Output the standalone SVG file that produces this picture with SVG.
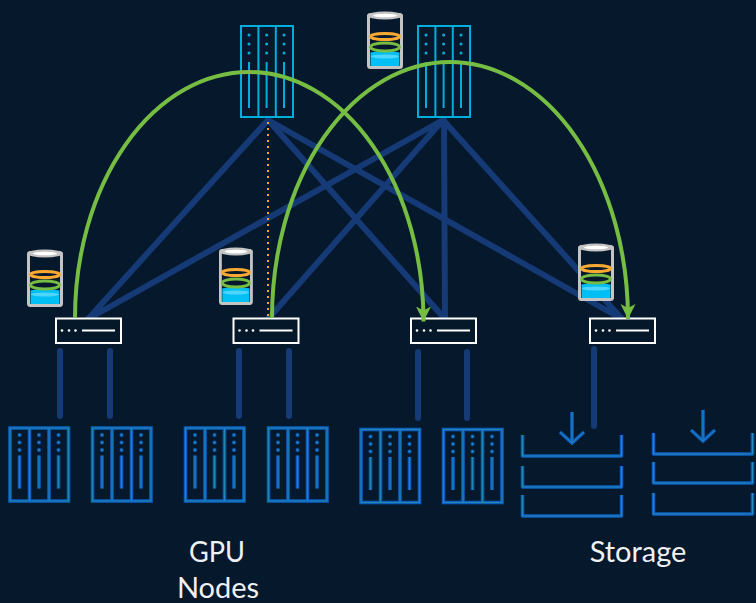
<svg xmlns="http://www.w3.org/2000/svg" xmlns:xlink="http://www.w3.org/1999/xlink" width="756" height="603" viewBox="0 0 756 603">
<style>
.link{fill:none;stroke:#153a75;stroke-width:6;stroke-linecap:round}
.arc{fill:none;stroke:#76bd43;stroke-width:4}
.lab{font-family:"Lato","Open Sans",sans-serif;font-size:29px;fill:#f0f1f3;text-anchor:middle}
.sw{fill:#051829;stroke:#fff;stroke-width:2}
.swl{stroke:#fff;stroke-width:2;fill:none}
.swd{fill:#fff}
.top{fill:none;stroke:#00aedb;stroke-width:2}
.topd{fill:#00aedb}
.o{fill:none;stroke:#0a5fba;stroke-width:3.6}
</style>
<defs>
<marker id="ah" markerUnits="userSpaceOnUse" markerWidth="18" markerHeight="18" refX="15" refY="8" orient="auto">
<path d="M0 0.500 L4 8 L0 15.500 L15 8Z" fill="#76bd43"/>
</marker>
<g id="toprack">
<rect class="top" x="1" y="1" width="52" height="91"/>
<path class="top" d="M18.400 1V92M35.800 1V92"/>
<circle class="topd" cx="9" cy="10" r="1.500"/><circle class="topd" cx="26.600" cy="10" r="1.500"/><circle class="topd" cx="44" cy="10" r="1.500"/>
<circle class="topd" cx="9" cy="19" r="1.500"/><circle class="topd" cx="26.600" cy="19" r="1.500"/><circle class="topd" cx="44" cy="19" r="1.500"/>
<circle class="topd" cx="9" cy="28" r="1.500"/><circle class="topd" cx="26.600" cy="28" r="1.500"/><circle class="topd" cx="44" cy="28" r="1.500"/>
<path class="top" d="M9 37V83M26.600 37V83M44 37V83"/>
</g>
<g id="rackpaths">
<rect x="1.500" y="1.500" width="58.500" height="73"/>
<path d="M21 1.500V74.500M40.500 1.500V74.500M11 29V62M30.500 29V62M50 29V62"/>
</g>
<g id="rack">
<use href="#rackpaths" class="o"/>
<use href="#rackpaths" fill="none" stroke="#2585b8" stroke-width="1"/>
<g fill="#0a5fba"><circle cx="11" cy="8.500" r="2"/><circle cx="30.500" cy="8.500" r="2"/><circle cx="50" cy="8.500" r="2"/><circle cx="11" cy="16" r="2"/><circle cx="30.500" cy="16" r="2"/><circle cx="50" cy="16" r="2"/><circle cx="11" cy="23.500" r="2"/><circle cx="30.500" cy="23.500" r="2"/><circle cx="50" cy="23.500" r="2"/></g>
<g fill="#2f9fc8"><circle cx="11" cy="8.500" r=".8"/><circle cx="30.500" cy="8.500" r=".8"/><circle cx="50" cy="8.500" r=".8"/><circle cx="11" cy="16" r=".8"/><circle cx="30.500" cy="16" r=".8"/><circle cx="50" cy="16" r=".8"/><circle cx="11" cy="23.500" r=".8"/><circle cx="30.500" cy="23.500" r=".8"/><circle cx="50" cy="23.500" r=".8"/></g>
</g>
<g id="tray">
<path class="o" d="M1.500 0V21H100.500V0" stroke-linejoin="round"/>
<path d="M1.500 0V21H100.500V0" fill="none" stroke="#2a86c0" stroke-width="1"/>
</g>
<g id="down">
<path class="o" d="M0 0V31M-12 20L0 31L12 20"/>
<path d="M0 0V31M-12 20L0 31L12 20" fill="none" stroke="#2a86c0" stroke-width="1"/>
</g>
<g id="cyl">
<rect x="1.500" y="3.500" width="33" height="53" rx="2" fill="#06182c" stroke="#c4c4c4" stroke-width="3"/>
<path d="M3.500 41.500Q18 38 32.500 41.500V55H3.500Z" fill="#00bff5"/>
<ellipse cx="18" cy="45.500" rx="14" ry="2" fill="#4fd6ff"/>
<ellipse cx="18" cy="25.500" rx="14.500" ry="3" fill="none" stroke="#f9a832" stroke-width="3"/>
<ellipse cx="18" cy="36" rx="14.500" ry="4" fill="none" stroke="#76bd43" stroke-width="3"/>
<ellipse cx="18" cy="4.500" rx="18" ry="4" fill="#c4c4c4"/>
<ellipse cx="18" cy="4.500" rx="12" ry="1.800" fill="#fff"/>
</g>
<g id="switch">
<rect class="sw" x="1" y="1" width="65" height="24.500"/>
<circle class="swd" cx="7" cy="13" r="1.300"/><circle class="swd" cx="14" cy="13" r="1.300"/><circle class="swd" cx="20.500" cy="13" r="1.300"/>
<path class="swl" d="M27 13H60"/>
</g>
</defs>
<rect width="756" height="603" fill="#05182c"/>
<g id="connectors">
<path class="link" d="M268 120L88 319M443 120L88 319M443 120L268 319M444 120L445 319M268 120L445 319M268 120L622 319M443 120L622 319"/>
<path class="link" d="M60 351V416M110 351V416M239 351V416M289 351V416M418 352V418M467 352V418M594 349V426"/>
<path d="M268 122V318" fill="none" stroke="#f5a623" stroke-width="2" stroke-dasharray="2 4"/>
</g>
<g id="spine-1"><use href="#toprack" x="240" y="25"/></g>
<g id="spine-2"><use href="#toprack" x="417" y="25"/></g>
<g id="cache-top"><use href="#cyl" x="367" y="11"/></g>
<g id="cache-1"><use href="#cyl" x="27" y="249"/></g>
<g id="cache-2"><use href="#cyl" transform="translate(219 247) scale(.94 1)"/></g>
<g id="cache-3"><use href="#cyl" x="578" y="243"/></g>
<g id="leaf-1"><use href="#switch" x="55" y="317.500"/></g>
<g id="leaf-2"><use href="#switch" x="232.500" y="317.500"/></g>
<g id="leaf-3"><use href="#switch" x="410" y="317.500"/></g>
<g id="leaf-4"><use href="#switch" x="589" y="317.500"/></g>
<g id="arcs">
<path class="arc" d="M75 318A174 246 0 0 1 249 72A174.500 249.500 0 0 1 423.500 321.500" marker-end="url(#ah)"/>
<path class="arc" d="M272 318A178 256 0 0 1 450 62A178 257 0 0 1 628 319" marker-end="url(#ah)"/>
</g>
<g id="gpu-1"><use href="#rack" x="8.500" y="426.500"/></g>
<g id="gpu-2"><use href="#rack" x="91" y="426.500"/></g>
<g id="gpu-3"><use href="#rack" x="184" y="426.500"/></g>
<g id="gpu-4"><use href="#rack" x="267" y="426.500"/></g>
<g id="gpu-5"><use href="#rack" x="359.500" y="428"/></g>
<g id="gpu-6"><use href="#rack" x="442" y="428"/></g>
<g id="storage-1">
<use href="#down" x="572" y="412"/>
<use href="#tray" x="521" y="435"/><use href="#tray" x="521" y="466"/><use href="#tray" x="521" y="495"/>
</g>
<g id="storage-2">
<use href="#down" x="703" y="410"/>
<use href="#tray" x="652" y="433"/><use href="#tray" x="652" y="462"/><use href="#tray" x="652" y="493"/>
</g>
<g id="labels">
<text class="lab" x="217" y="562" textLength="56" lengthAdjust="spacingAndGlyphs">GPU</text>
<text class="lab" x="218" y="598">Nodes</text>
<text class="lab" x="638" y="562">Storage</text>
</g>
</svg>
